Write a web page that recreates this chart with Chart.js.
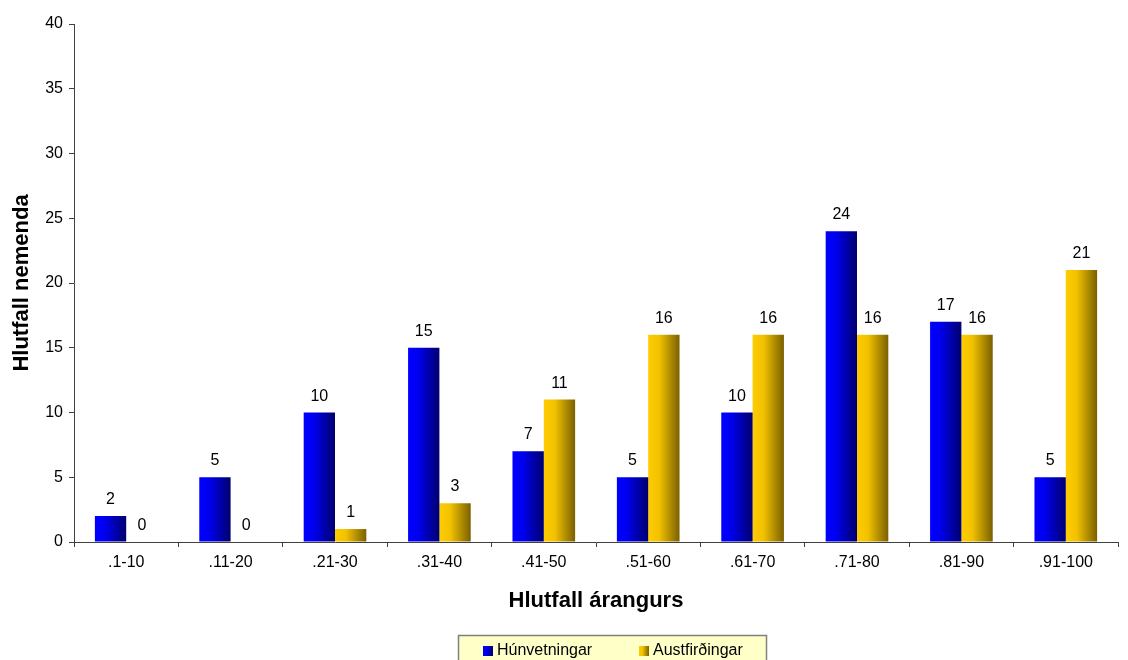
<!DOCTYPE html>
<html>
<head>
<meta charset="utf-8">
<script src="https://cdn.jsdelivr.net/npm/chart.js@4.4.1/dist/chart.umd.min.js"></script>
<style>
  html, body { margin: 0; padding: 0; background: #fff; }
  #wrap { width: 1128px; height: 660px; }
</style>
</head>
<body>
<div id="wrap"><canvas id="c" width="1128" height="660"></canvas></div>
<script>
const categories = ['.1-10', '.11-20', '.21-30', '.31-40', '.41-50', '.51-60', '.61-70', '.71-80', '.81-90', '.91-100'];
const hunvetningar = [2, 5, 10, 15, 7, 5, 10, 24, 17, 5];
const austfirdingar = [0, 0, 1, 3, 11, 16, 16, 16, 16, 21];
const seriesNames = ['Húnvetningar', 'Austfirðingar'];
const yTicks = [0, 5, 10, 15, 20, 25, 30, 35, 40];

const FONT = '"Liberation Sans", Arial, sans-serif';
const AXIS = '#404040';
const blueStops = [[0, '#0000FF'], [0.3, '#0000F2'], [1, '#00006E']];
const goldStops = [[0, '#FFCC00'], [0.35, '#F2C200'], [1, '#7A6000']];
const CAT_PCT = 0.6;

function makeGrad(ctx, x0, x1, stops) {
  const g = ctx.createLinearGradient(x0, 0, x1, 0);
  stops.forEach(s => g.addColorStop(s[0], s[1]));
  return g;
}

function barFill(stops, side) {
  return function (c) {
    const chart = c.chart;
    const xs = chart.scales && chart.scales.x;
    if (c.type !== 'data' || !xs || !xs.width) return stops[0][1];
    const center = xs.getPixelForValue(c.dataIndex);
    const w = xs.width / categories.length * CAT_PCT / 2;
    const left = side === 0 ? center - w : center;
    return makeGrad(chart.ctx, left, left + w, stops);
  };
}

const dataLabels = {
  id: 'dataLabels',
  afterDatasetsDraw(chart) {
    const ctx = chart.ctx;
    ctx.save();
    ctx.font = '16px ' + FONT;
    ctx.fillStyle = '#000';
    ctx.textAlign = 'center';
    ctx.textBaseline = 'alphabetic';
    chart.data.datasets.forEach((ds, i) => {
      const meta = chart.getDatasetMeta(i);
      meta.data.forEach((el, j) => {
        ctx.fillText(String(ds.data[j]), el.x, el.y - 12);
      });
    });
    ctx.restore();
  }
};

const boxLegend = {
  id: 'boxLegend',
  afterDraw(chart) {
    const ctx = chart.ctx;
    ctx.save();
    ctx.fillStyle = '#FFFFC8';
    ctx.fillRect(458, 635, 308, 40);
    ctx.strokeStyle = '#808080';
    ctx.lineWidth = 1.5;
    ctx.strokeRect(458.5, 635.5, 308, 40);
    const items = [
      { x: 483, stops: blueStops, text: seriesNames[0] },
      { x: 639, stops: goldStops, text: seriesNames[1] }
    ];
    ctx.font = '16px ' + FONT;
    ctx.textBaseline = 'middle';
    ctx.textAlign = 'left';
    items.forEach(it => {
      ctx.fillStyle = makeGrad(ctx, it.x, it.x + 10, it.stops);
      ctx.fillRect(it.x, 646, 10, 10);
      ctx.fillStyle = '#000';
      ctx.fillText(it.text, it.x + 14, 651);
    });
    ctx.restore();
  }
};

new Chart(document.getElementById('c'), {
  type: 'bar',
  data: {
    labels: categories,
    datasets: [
      { label: seriesNames[0], data: hunvetningar, backgroundColor: barFill(blueStops, 0), borderWidth: 0 },
      { label: seriesNames[1], data: austfirdingar, backgroundColor: barFill(goldStops, 1), borderWidth: 0 }
    ]
  },
  options: {
    responsive: false,
    animation: false,
    devicePixelRatio: 1,
    datasets: { bar: { categoryPercentage: CAT_PCT, barPercentage: 1.0 } },
    layout: { padding: { left: 0, right: 10, top: 24, bottom: 0 } },
    plugins: { legend: { display: false }, tooltip: { enabled: false } },
    scales: {
      x: {
        grid: { display: true, drawOnChartArea: false, offset: true, tickLength: 5, color: AXIS, tickColor: AXIS },
        border: { display: true, color: AXIS, width: 1 },
        ticks: { color: '#000', font: { family: FONT, size: 16 }, padding: 6, autoSkip: false, maxRotation: 0 },
        title: { display: true, text: 'Hlutfall árangurs', color: '#000', font: { family: FONT, size: 22, weight: 'bold' }, padding: { top: 4, bottom: 46 } },
        afterFit(s) { s.height = 118; }
      },
      y: {
        min: 0, max: 40,
        afterBuildTicks(s) { s.ticks = yTicks.map(v => ({ value: v })); },
        grid: { display: true, drawOnChartArea: false, tickLength: 5, color: AXIS, tickColor: AXIS },
        border: { display: true, color: AXIS, width: 1 },
        ticks: { color: '#000', font: { family: FONT, size: 16 }, padding: 6 },
        title: { display: true, text: 'Hlutfall nemenda', color: '#000', font: { family: FONT, size: 22, weight: 'bold' }, padding: { top: 9, bottom: 4 } },
        afterFit(s) { s.width = 74; }
      }
    }
  },
  plugins: [dataLabels, boxLegend]
});
</script>
</body>
</html>
